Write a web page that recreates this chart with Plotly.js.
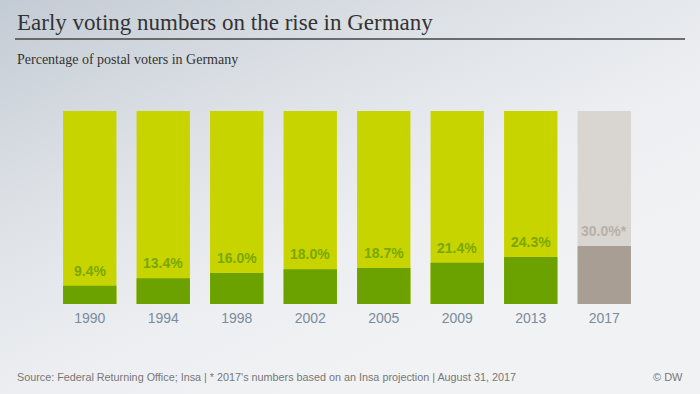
<!DOCTYPE html>
<html><head><meta charset="utf-8">
<script src="https://cdn.plot.ly/plotly-3.0.1.min.js"></script>
<style>
html,body{margin:0;padding:0;}
#chart{width:700px;height:394px;background:linear-gradient(155deg,#c3cbd4 0%,#dde1e6 30%,#eceef1 55%,#f1f2f4 75%);}
</style></head><body>
<div id="chart"></div>
<script>
const years = ['1990','1994','1998','2002','2005','2009','2013','2017'];
const values = [9.4,13.4,16.0,18.0,18.7,21.4,24.3,30.0];
const labels = ['9.4%','13.4%','16.0%','18.0%','18.7%','21.4%','24.3%','30.0%*'];
const fullScale = [100,100,100,100,100,100,100,100];

const L=53, R=59, T=111, B=90, W=700, H=394;
const pw=W-L-R, ph=H-T-B;
const px=x=>(x-L)/pw, py=y=>(H-B-y)/ph;
const idx = years.map((y,i)=>i);

const bgCol = years.map(y=>y==='2017'?'#d9d5d0':'#c8d400');
const fgCol = years.map(y=>y==='2017'?'#a89e94':'#6ca200');
const txtCol = years.map(y=>y==='2017'?'#b8b0a8':'#7aa800');

const traces=[
 {type:'bar',x:idx,y:fullScale,width:0.726,marker:{color:bgCol,line:{width:0}},hoverinfo:'skip'},
 {type:'bar',x:idx,y:values,width:0.726,marker:{color:fgCol,line:{width:0}},hoverinfo:'skip'}
];
const ann = years.map((y,i)=>({x:i,y:values[i],xref:'x',yref:'y',text:'<b>'+labels[i]+'</b>',showarrow:false,
  yanchor:'bottom',yshift:5,font:{family:'Liberation Sans, Arial',size:14,color:txtCol[i]}}));
ann.push({x:px(15),y:py(23),xref:'paper',yref:'paper',xanchor:'left',yanchor:'middle',showarrow:false,
  text:'Early voting numbers on the rise in Germany',font:{family:'Liberation Serif',size:23,color:'#333'}});
ann.push({x:px(15),y:py(60),xref:'paper',yref:'paper',xanchor:'left',yanchor:'middle',showarrow:false,
  text:'Percentage of postal voters in Germany',font:{family:'Liberation Serif',size:14,color:'#333'}});
ann.push({x:px(15),y:py(377),xref:'paper',yref:'paper',xanchor:'left',yanchor:'middle',showarrow:false,
  text:"Source: Federal Returning Office; Insa | * 2017's numbers based on an Insa projection | August 31, 2017",
  font:{family:'Liberation Sans, Arial',size:10.8,color:'#777'}});
ann.push({x:px(685),y:py(377),xref:'paper',yref:'paper',xanchor:'right',yanchor:'middle',showarrow:false,
  text:'© DW',font:{family:'Liberation Sans, Arial',size:11,color:'#777'}});

const layout={
 width:W,height:H,margin:{l:L,r:R,t:T,b:B,pad:0},
 paper_bgcolor:'rgba(0,0,0,0)',plot_bgcolor:'rgba(0,0,0,0)',
 barmode:'overlay',showlegend:false,
 xaxis:{range:[-0.5,years.length-0.5],tickvals:idx,ticktext:years,showgrid:false,zeroline:false,showline:false,
   ticks:'outside',ticklen:1,tickcolor:'rgba(0,0,0,0)',
   tickfont:{family:'Liberation Sans, Arial',size:14,color:'#7a8b9c'}},
 yaxis:{range:[0,100],visible:false,fixedrange:true},
 annotations:ann,
 shapes:[{type:'line',xref:'paper',yref:'paper',x0:px(15),x1:px(685),y0:py(39),y1:py(39),line:{color:'#444',width:1.5}}]
};
Plotly.newPlot('chart',traces,layout,{displayModeBar:false,staticPlot:true});
</script></body></html>
